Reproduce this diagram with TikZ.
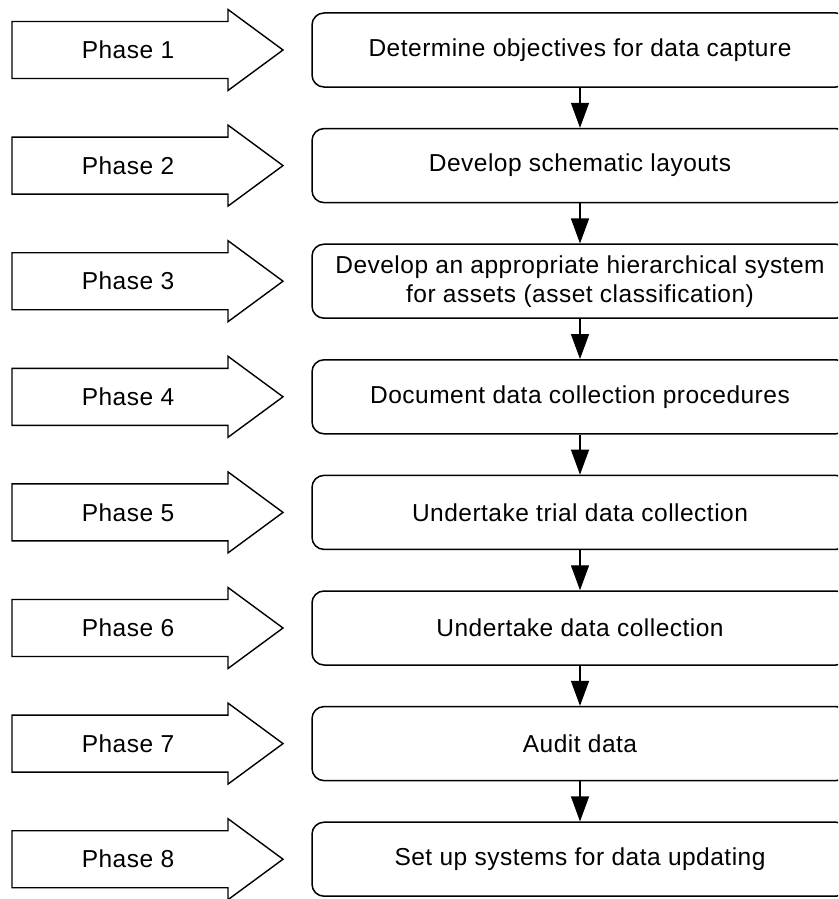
\documentclass[tikz,border=0pt]{standalone}
\usepackage{fontspec}
\setmainfont[LetterSpace=2]{Liberation Sans}
\usetikzlibrary{arrows.meta}

\begin{document}
\begin{tikzpicture}[x=1pt,y=-1pt,
  stepbox/.style={draw, line width=1.5pt, rounded corners=12pt,
    minimum width=536pt, minimum height=74pt, align=center,
    inner sep=0pt, font=\fontsize{24.5}{29}\selectfont},
  phasearrow/.style={draw, line width=1.4pt, line join=miter},
  phaselabel/.style={font=\fontsize{24.5}{29}\selectfont, inner sep=0pt},
  flow/.style={line width=1.3pt, -{Triangle[width=18pt,length=25pt]}}]
\clip (0,0) rectangle (838,899);
\fill[white] (0,0) rectangle (838,899);

\foreach \i/\txt in {%
  1/{Determine objectives for data capture},
  2/{Develop schematic layouts},
  3/{Develop an appropriate hierarchical system\\for assets (asset classification)},
  4/{Document data collection procedures},
  5/{Undertake trial data collection},
  6/{Undertake data collection},
  7/{Audit data},
  8/{Set up systems for data updating}}{
  \pgfmathsetmacro{\cy}{50+115.6*(\i-1)}
  % block arrow carrying the phase number
  \draw[phasearrow] (12,\cy-28.5) -- (228,\cy-28.5) -- (228,\cy-40.5)
    -- (283,\cy) -- (228,\cy+40.5) -- (228,\cy+28.5) -- (12,\cy+28.5) -- cycle;
  \node[phaselabel] (p\i) at (128,\cy) {Phase \i};
  % step box
  \node[stepbox] (b\i) at (580,\cy) {\txt};
}

\foreach \a/\b in {1/2,2/3,3/4,4/5,5/6,6/7,7/8}
  \draw[flow] (b\a.south) -- (b\b.north);
\end{tikzpicture}
\end{document}
